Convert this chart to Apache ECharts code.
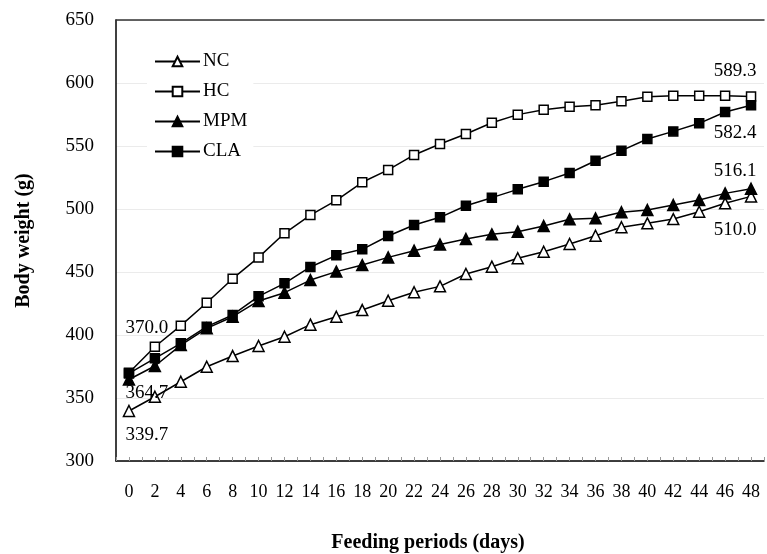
<!DOCTYPE html>
<html>
<head>
<meta charset="UTF-8">
<title>Body weight</title>
<script src="https://cdn.jsdelivr.net/npm/echarts@6/dist/echarts.min.js"></script>
<style>
  html, body { margin: 0; padding: 0; background: #fff; }
  #chart { width: 767px; height: 554px; }
</style>
</head>
<body>
<div id="chart"></div>
<script>
// feeding days (x) and body weights (g)
var days = [0, 2, 4, 6, 8, 10, 12, 14, 16, 18, 20, 22, 24, 26, 28, 30, 32, 34, 36, 38, 40, 42, 44, 46, 48];
var nc  = [339.7, 351.0, 362.9, 374.8, 383.3, 391.3, 398.6, 408.2, 414.5, 419.8, 427.2, 433.9, 438.6, 448.4, 454.2, 460.9, 466.1, 472.2, 478.8, 485.5, 488.6, 492.0, 497.8, 504.5, 510.0];
var hc  = [370.0, 390.7, 407.4, 425.6, 444.7, 461.6, 480.7, 495.2, 506.9, 521.2, 531.0, 542.9, 551.6, 559.5, 568.5, 574.9, 578.8, 581.2, 582.3, 585.5, 589.1, 589.9, 589.9, 589.9, 589.3];
var mpm = [364.7, 375.4, 392.0, 405.3, 414.5, 427.0, 433.6, 443.6, 450.3, 455.5, 461.6, 466.9, 471.8, 476.2, 479.9, 482.0, 486.5, 491.8, 492.6, 497.4, 499.2, 503.2, 507.1, 512.4, 516.1];
var cla = [369.5, 381.5, 393.4, 406.6, 415.9, 430.7, 441.0, 454.0, 463.2, 468.0, 478.6, 487.3, 493.4, 502.6, 509.0, 515.6, 521.7, 528.6, 538.3, 546.3, 555.6, 561.6, 568.0, 577.0, 582.4];
var yTicks = [300, 350, 400, 450, 500, 550, 600, 650];

var FONT = '"Liberation Serif", "Times New Roman", serif';

// build [day, value] pairs; label first / last point when an offset is given
function points(values, firstOffset, lastOffset) {
  return values.map(function (v, i) {
    var item = { value: [days[i], v] };
    var off = i === 0 ? firstOffset : (i === values.length - 1 ? lastOffset : null);
    if (off) {
      item.label = {
        show: true, position: 'inside', offset: off,
        formatter: v.toFixed(1),
        color: '#000', fontFamily: FONT, fontSize: 19
      };
    }
    return item;
  });
}

function line(name, symbol, size, filled, data) {
  return {
    name: name, type: 'line', data: data,
    symbol: symbol, symbolSize: size,
    lineStyle: { color: '#000', width: 1.5 },
    itemStyle: { color: filled ? '#000' : '#fff', borderColor: '#000', borderWidth: 1.5 },
    emphasis: { disabled: true },
    animation: false
  };
}

var chart = echarts.init(document.getElementById('chart'));
chart.setOption({
  animation: false,
  grid: { left: 116, top: 20, right: 0, bottom: 93 },
  title: {
    text: 'Feeding periods (days)', left: 423, top: 528, textAlign: 'center',
    textStyle: { fontFamily: FONT, fontSize: 20, fontWeight: 'bold', color: '#000' }
  },
  legend: {
    orient: 'vertical', left: 147, top: 47,
    padding: [5, 6, 5, 7],
    backgroundColor: '#fff',
    itemWidth: 45, itemHeight: 12, itemGap: 11,
    textStyle: { fontFamily: FONT, fontSize: 19, color: '#000', padding: [0, 0, 0, -2] },
    data: ['NC', 'HC', 'MPM', 'CLA']
  },
  xAxis: [{
    type: 'value', min: -1, max: 49, interval: 1,
    axisLine: { onZero: false, lineStyle: { color: '#000', width: 1.5 } },
    axisTick: { inside: true, length: 4, lineStyle: { color: '#999' } },
    splitLine: { show: false },
    axisLabel: {
      fontFamily: FONT, fontSize: 18, color: '#000', margin: 22,
      showMinLabel: true, showMaxLabel: true,
      formatter: function (v) { return (v >= days[0] && v <= days[days.length - 1] && v % 2 === 0) ? String(v) : ''; }
    }
  }, {
    type: 'value', position: 'top', min: -1, max: 49,
    axisLine: { show: true, onZero: false, lineStyle: { color: '#333', width: 1.5 } },
    axisTick: { show: false }, axisLabel: { show: false }, splitLine: { show: false }
  }],
  yAxis: {
    type: 'value', min: yTicks[0], max: yTicks[yTicks.length - 1], interval: 50,
    name: 'Body weight (g)', nameLocation: 'middle', nameGap: 82,
    nameTextStyle: { fontFamily: FONT, fontSize: 20, fontWeight: 'bold', color: '#000' },
    axisLine: { show: true, onZero: false, lineStyle: { color: '#000', width: 1.5 } },
    axisTick: { show: false },
    splitLine: { lineStyle: { color: '#ebebeb' } },
    axisLabel: { fontFamily: FONT, fontSize: 19, color: '#000', margin: 22 }
  },
  series: [
    line('NC', 'triangle', 11, false, points(nc, [18, 24], [-16, 34])),
    line('HC', 'rect', 9, false, points(hc, [18, -45], [-16, -25])),
    line('MPM', 'triangle', 11, true, points(mpm, [18, 14], [-16, -18])),
    line('CLA', 'rect', 9, true, points(cla, null, [-16, 28]))
  ]
});
</script>
</body>
</html>
